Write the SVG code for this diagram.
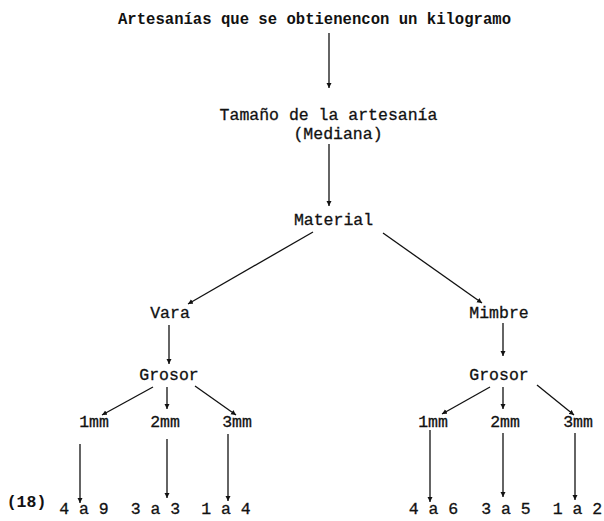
<svg xmlns="http://www.w3.org/2000/svg" width="604" height="521" viewBox="0 0 604 521">
<style>
text{font-family:"Liberation Mono","DejaVu Sans Mono",monospace;font-size:16.5px;fill:#111;stroke:#111;stroke-width:0.3;text-anchor:middle}
.t{font-weight:bold;font-size:15.6px;stroke-width:0}
.b{font-weight:bold;stroke-width:0}
.c line{stroke:#111;stroke-width:1.3;marker-end:url(#ah)}
</style>
<defs>
<marker id="ah" markerWidth="6" markerHeight="6" refX="5" refY="3" orient="auto" markerUnits="userSpaceOnUse">
<path d="M0,0.5 L5,3 L0,5.5 Z" fill="#111"/>
</marker>
</defs>
<rect width="604" height="521" fill="#fff"/>
<g id="title"><text class="t" x="314.5" y="24">Artesanías que se obtienencon un kilogramo</text></g>
<g id="tamano"><text x="328.5" y="120">Tamaño de la artesanía</text><text x="338" y="139">(Mediana)</text></g>
<g id="material"><text x="333.5" y="225">Material</text></g>
<g id="vara"><text x="170" y="318">Vara</text></g>
<g id="mimbre"><text x="499" y="318">Mimbre</text></g>
<g id="grosor1"><text x="169" y="380">Grosor</text></g>
<g id="grosor2"><text x="499" y="380">Grosor</text></g>
<g id="v1mm"><text x="94" y="427">1mm</text></g>
<g id="v2mm"><text x="165" y="427">2mm</text></g>
<g id="v3mm"><text x="237" y="427">3mm</text></g>
<g id="m1mm"><text x="433" y="427">1mm</text></g>
<g id="m2mm"><text x="505" y="427">2mm</text></g>
<g id="m3mm"><text x="578" y="427">3mm</text></g>
<g id="note"><text class="b" x="26.5" y="507">(18)</text></g>
<g id="r1"><text x="84" y="514">4 a 9</text></g>
<g id="r2"><text x="155.5" y="514">3 a 3</text></g>
<g id="r3"><text x="226" y="514">1 a 4</text></g>
<g id="r4"><text x="433.5" y="514">4 a 6</text></g>
<g id="r5"><text x="506" y="514">3 a 5</text></g>
<g id="r6"><text x="577.5" y="514">1 a 2</text></g>
<g class="c" id="connectors">
<line x1="329" y1="33" x2="329" y2="88"/>
<line x1="329" y1="144" x2="329" y2="206"/>
<line x1="313" y1="232" x2="188" y2="304"/>
<line x1="383" y1="233" x2="482" y2="303"/>
<line x1="169" y1="325" x2="169" y2="364"/>
<line x1="503" y1="323" x2="503" y2="356"/>
<line x1="153" y1="387" x2="102" y2="415"/>
<line x1="167" y1="387" x2="167" y2="409"/>
<line x1="195" y1="386" x2="236" y2="415"/>
<line x1="490" y1="387" x2="442" y2="414"/>
<line x1="503" y1="387" x2="503" y2="409"/>
<line x1="537" y1="385" x2="574" y2="415"/>
<line x1="80" y1="444" x2="80" y2="503"/>
<line x1="167" y1="439" x2="167" y2="498"/>
<line x1="228" y1="434" x2="228" y2="501"/>
<line x1="430" y1="430" x2="430" y2="502"/>
<line x1="503" y1="433" x2="503" y2="497"/>
<line x1="575" y1="433" x2="575" y2="500"/>
</g>
</svg>
